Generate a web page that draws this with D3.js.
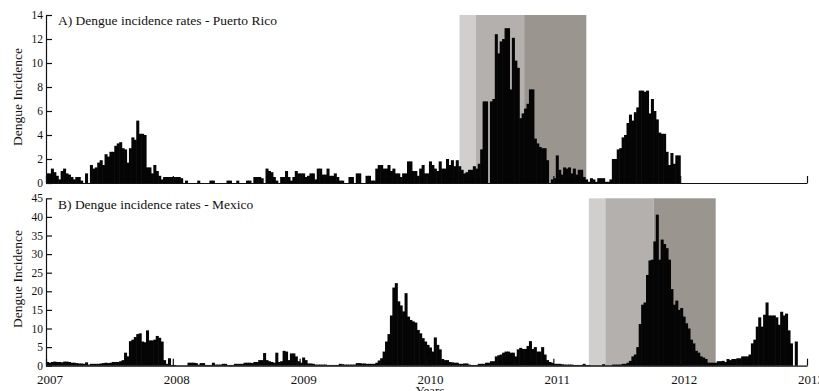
<!DOCTYPE html>
<html>
<head>
<meta charset="utf-8">
<script src="https://cdn.jsdelivr.net/npm/d3@7"></script>
<style>
body { margin: 0; background: #fff; }
svg { display: block; font-family: "Liberation Serif", "Times New Roman", serif; }
</style>
</head>
<body>
<script>
// weekly dengue incidence, 52 weeks per year
var prIncidence2007 = [0.8,0.8,1.2,0.9,0.6,0.3,1.0,1.2,0.8,0.7,0.5,0.3,0.5,0.5,0.2,0.0,0.8,0.0,1.5,1.2,1.3,1.7,1.9,1.5,2.4,2.2,2.6,2.6,3.1,3.3,3.4,2.9,2.8,1.7,2.9,3.8,3.6,5.2,4.1,4.1,4.0,1.3,1.3,0.8,1.5,1.0,0.6,0.3,0.5,0.5,0.5,0.5];
var prIncidence2008 = [0.5,0.5,0.5,0.4,0,0.2,0,0,0,0,0.2,0,0,0,0,0.2,0.2,0,0,0,0,0,0.2,0.2,0,0,0.2,0,0,0,0.2,0.2,0,0.5,0.5,0.5,0.4,0,1.2,1.0,0.9,0.5,0.2,0,0.5,0.5,1.0,0.5,0.2,0.5,1.0,0.8];
var prIncidence2009 = [0.8,0.8,0.5,0.6,0.8,0.8,0.3,1.2,1.2,0.7,0.7,1.2,0.6,0.6,0.8,0.5,0.2,0.2,0,0,0.5,0.5,0,0.8,0.8,0,0,0.6,0.6,0.2,0.2,1.2,1.5,1.5,1.2,1.2,1.5,1.0,1.2,0.8,0.8,0.5,0.8,0.8,1.8,1.8,1.0,1.0,0.6,1.2,1.5,0.8];
var prIncidence2010 = [0.8,1.8,1.5,1.2,1.0,1.8,1.2,1.2,2.0,1.5,1.9,1.4,1.9,1.4,1.1,0.8,0.9,1.1,1.1,1.4,1.2,1.6,2.8,6.8,6.8,0.0,6.8,7.0,12.4,10.8,11.8,12.0,12.9,12.9,7.8,12.1,10.2,9.6,5.4,5.8,6.2,6.6,7.8,7.8,3.7,3.3,3.0,2.9,2.9,1.9,0.0,0.3];
var prIncidence2011 = [0.4,2.3,1.1,0.7,1.3,1.2,1.3,0.8,1.2,0.7,1.1,1.1,0.5,0.3,0.1,0.4,0.3,0.1,0.4,0.4,0.4,0.1,0.1,0.3,2.0,2.0,2.8,2.9,3.8,4.0,5.0,5.7,5.2,5.9,6.3,7.7,7.7,7.6,7.7,5.8,7.0,6.0,5.3,4.2,4.1,4.1,2.6,1.5,2.5,1.6,2.3,2.3];

var mxIncidence2007 = [1.0,0.8,1.0,1.1,1.0,1.0,0.9,1.1,1.1,1.0,0.8,0.8,0.7,0.6,0.6,0.5,0.9,0.3,0.5,0.5,0.5,0.5,0.6,0.7,0.8,0.7,0.8,1.0,1.0,1.0,1.2,1.5,3.5,2.5,6.6,7.0,7.7,8.5,8.7,6.5,6.3,9.5,6.8,6.8,7.0,8.0,7.5,6.5,1.5,0.5,2.0,0.2];
var mxIncidence2008 = [0.2,0.1,0.1,0.1,0.1,0.1,0.8,0.8,0.8,0.7,0.3,0.7,0.7,0.2,0.2,0.2,0.8,0.3,0.3,0.3,0.5,0.5,0.2,0.2,0.2,0.5,0.5,0.5,0.5,0.8,0.8,0.8,0.7,1.0,1.0,1.5,1.5,3.4,1.5,1.2,1.0,0.8,3.5,1.0,1.2,4.0,3.8,1.5,3.3,3.3,2.5,1.2];
var mxIncidence2009 = [0.8,2.2,1.5,0.6,0.6,0.5,0.3,0.3,0.3,0.3,0.3,0.2,0.2,0.2,0.2,0.2,0.5,0.4,0.3,0.3,0.3,0.3,0.3,0.7,0.7,0.6,0.6,0.5,0.5,0.5,0.5,0.8,1.4,2.0,3.8,6.5,8.5,13.5,21.0,22.2,17.3,16.2,14.6,19.5,13.2,12.3,11.9,11.6,9.6,8.7,7.4,6.5];
var mxIncidence2010 = [5.6,4.9,3.8,7.6,5.6,4.4,1.8,1.5,1.5,1.0,0.9,0.8,0.8,0.5,0.5,0.6,0.6,0.3,0.2,0.2,0.2,0.5,0.5,0.5,0.8,0.8,1.2,1.2,2.5,2.8,3.0,3.5,3.8,3.8,3.5,3.5,2.5,4.4,4.8,4.5,4.5,5.3,6.6,4.5,5.0,3.8,3.8,5.0,3.0,1.5,1.0,0.8];
var mxIncidence2011 = [0.5,0.5,0.5,0.4,0.3,0.3,0.3,0.3,0.2,0.2,0.2,0.2,0.5,0.2,0.2,0.1,0.1,0.1,0.1,0.1,0.4,0.1,0.1,0.1,0.3,0.3,0.3,0.3,0.5,0.5,0.8,1.3,2.5,3.0,5.0,11.2,16.4,17.0,24.4,28.3,28.5,33.4,40.6,28.5,33.9,32.7,31.6,28.5,20.6,16.4,17.5,15.0];
var mxIncidence2012 = [15.5,13.2,11.4,10.0,7.0,6.0,4.0,3.5,2.5,2.2,1.8,0.8,0.8,0.8,0.8,1.2,1.2,1.3,1.0,1.8,1.5,1.8,1.8,2.0,2.0,2.5,2.5,2.5,3.0,6.0,7.0,10.5,13.0,10.5,13.7,17.0,13.5,13.5,13.5,13.0,11.0,14.5,13.5,14.0,9.5,6.0,0,6.5];

// shaded periods, as decimal years (boundaries of the three bands)
var prShades = [2010.26, 2010.39, 2010.77, 2011.26];
var mxShades = [2011.28, 2011.41, 2011.79, 2012.28];
var shadeColors = ["#d1cfcd", "#b4b0ad", "#9b9590"];

var yearTicks = [2007, 2008, 2009, 2010, 2011, 2012, 2013];
var prTicks = [0, 2, 4, 6, 8, 10, 12, 14];
var mxTicks = [0, 5, 10, 15, 20, 25, 30, 35, 40, 45];

function weekly(startYear, yearArrays) {
    var out = [];
    yearArrays.forEach(function(arr, k) {
        arr.forEach(function(v, i) {
            out.push({ t: startYear + k + i / 52, v: v });
        });
    });
    return out;
}

var width = 819, height = 391;

var svg = d3.select("body").append("svg")
    .attr("width", width)
    .attr("height", height);

var x = d3.scaleLinear()
    .domain([2007, 2013])
    .range([46, 807]);

var panels = [
    {
        title: "A) Dengue incidence rates - Puerto Rico",
        data: weekly(2007, [prIncidence2007, prIncidence2008, prIncidence2009, prIncidence2010, prIncidence2011]),
        ticks: prTicks, shades: prShades, range: [183, 15], labels: false, titleY: 25, labelY: 97
    },
    {
        title: "B) Dengue incidence rates - Mexico",
        data: weekly(2007, [mxIncidence2007, mxIncidence2008, mxIncidence2009, mxIncidence2010, mxIncidence2011, mxIncidence2012]),
        ticks: mxTicks, shades: mxShades, range: [365.7, 198.3], labels: true, titleY: 209, labelY: 279
    }
];

panels.forEach(function(p) {
    var y = d3.scaleLinear()
        .domain([0, d3.max(p.ticks)])
        .range(p.range);

    var g = svg.append("g");

    // shaded bands
    g.append("g").selectAll("rect")
        .data(d3.range(p.shades.length - 1))
        .enter().append("rect")
        .attr("x", function(i) { return x(p.shades[i]); })
        .attr("width", function(i) { return x(p.shades[i + 1]) - x(p.shades[i]); })
        .attr("y", y(d3.max(p.ticks)))
        .attr("height", y(0) - y(d3.max(p.ticks)))
        .attr("fill", function(i) { return shadeColors[i]; });

    // weekly bars
    var bw = x(2007 + 1 / 52) - x(2007);
    g.append("g").selectAll("rect")
        .data(p.data.filter(function(d) { return d.v > 0; }))
        .enter().append("rect")
        .attr("x", function(d) { return x(d.t); })
        .attr("width", bw + 0.6)
        .attr("y", function(d) { return y(d.v); })
        .attr("height", function(d) { return y(0) - y(d.v); })
        .attr("fill", "#050505");

    // y axis
    var ya = g.append("g")
        .attr("transform", "translate(" + x(2007) + ",0)")
        .call(d3.axisLeft(y).tickValues(p.ticks).tickSizeInner(-6).tickSizeOuter(0).tickPadding(3));
    ya.selectAll("text").attr("font-size", 11.5).attr("font-family", "Liberation Serif").attr("fill", "#111");

    // x axis
    var xa = g.append("g")
        .attr("transform", "translate(0," + y(0) + ")")
        .call(d3.axisBottom(x).tickValues(yearTicks).tickSizeInner(-7).tickSizeOuter(0).tickPadding(9)
            .tickFormat(p.labels ? d3.format("d") : ""));
    xa.selectAll("text").attr("font-size", 13).attr("font-family", "Liberation Serif").attr("dx", 3.5).attr("fill", "#111");

    [ya, xa].forEach(function(a) {
        a.selectAll("path, line").attr("stroke", "#111").attr("stroke-width", 1.2);
    });

    g.append("text")
        .attr("x", 58)
        .attr("y", p.titleY)
        .attr("font-size", 13.5)
        .attr("fill", "#111")
        .text(p.title);

    g.append("text")
        .attr("transform", "translate(22," + p.labelY + ") rotate(-90)")
        .attr("text-anchor", "middle")
        .attr("font-size", 13.5)
        .attr("fill", "#111")
        .text("Dengue Incidence");
});

svg.append("text")
    .attr("x", x(2010) + 3.5)
    .attr("y", 395)
    .attr("text-anchor", "middle")
    .attr("font-size", 13)
    .attr("fill", "#111")
    .text("Years");
</script>
</body>
</html>
